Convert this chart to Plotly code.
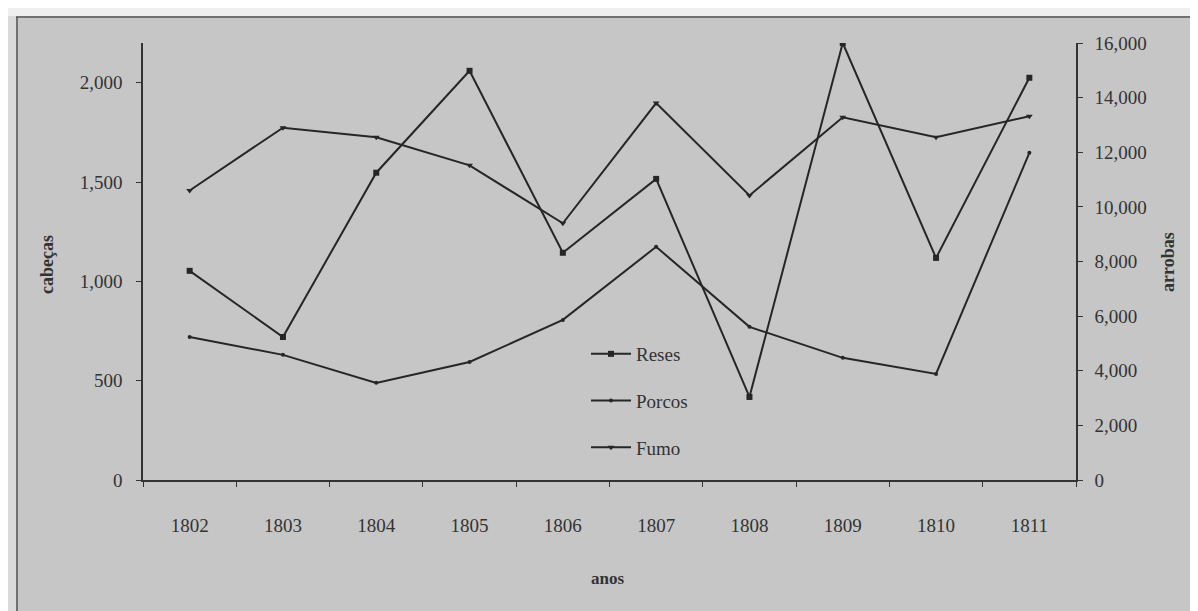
import plotly.graph_objects as go

anos = ["1802", "1803", "1804", "1805", "1806", "1807", "1808", "1809", "1810", "1811"]
reses = [1053, 720, 1547, 2060, 1144, 1516, 418, 2200, 1118, 2025]
porcos = [720, 630, 489, 594, 806, 1174, 771, 615, 534, 1647]
fumo = [10600, 12900, 12550, 11520, 9400, 13800, 10420, 13280, 12550, 13320]

left_ticks = [0, 500, 1000, 1500, 2000]
right_ticks = [0, 2000, 4000, 6000, 8000, 10000, 12000, 14000, 16000]

INK = "#262626"
TXT = "#333333"
SERIF = "Liberation Serif"

O = 8  # page body offset
W, H = 1198, 611
L, T = 143 - O, 43 - O
pw, ph = 933, 437
R, B = W - L - pw, H - T - ph

def px_x(p):
    return (p - O - L) / pw

def px_y(p):
    return (T + ph - (p - O)) / ph

fig = go.Figure()
fig.add_trace(go.Scatter(x=anos, y=reses, name="Reses", mode="lines+markers",
                         line=dict(color=INK, width=2),
                         marker=dict(symbol="square", size=6, color=INK),
                         legendgroup="a"))
fig.add_trace(go.Scatter(x=anos, y=porcos, name="Porcos", mode="lines+markers",
                         line=dict(color=INK, width=2),
                         marker=dict(symbol="circle", size=4, color=INK),
                         legendgroup="b"))
fig.add_trace(go.Scatter(x=anos, y=fumo, name="Fumo", mode="lines+markers",
                         yaxis="y2",
                         line=dict(color=INK, width=2),
                         marker=dict(symbol="triangle-down", size=6, color=INK),
                         legendgroup="c"))

axis_common = dict(showgrid=False, zeroline=False, showline=True,
                   linecolor="#333333", linewidth=1.5,
                   ticks="outside", ticklen=5, tickcolor="#333333",
                   tickfont=dict(family=SERIF, size=19, color=TXT))

fig.update_layout(
    width=W, height=H,
    margin=dict(l=L, r=R, t=T, b=B),
    paper_bgcolor="#c6c6c6",
    plot_bgcolor="#c6c6c6",
    showlegend=True,
    legend=dict(x=px_x(586), y=px_y(335), xanchor="left", yanchor="top",
                bgcolor="rgba(0,0,0,0)", traceorder="grouped",
                tracegroupgap=19, itemwidth=40,
                font=dict(family=SERIF, size=19, color=TXT)),
    xaxis=dict(type="category", tickson="boundaries", range=[-0.5, 9.5],
               ticklabelstandoff=27, **axis_common),
    yaxis=dict(range=[0, 2200], tickvals=left_ticks, tickformat=",",
               ticklabelstandoff=10, **axis_common),
    yaxis2=dict(range=[0, 16000], tickvals=right_ticks, tickformat=",",
                overlaying="y", side="right", anchor="x",
                ticklabelstandoff=8, **axis_common),
    annotations=[
        dict(text="<b>cabeças</b>", x=px_x(47), y=px_y(265), xref="paper", yref="paper",
             xanchor="center", yanchor="middle",
             showarrow=False, textangle=-90,
             font=dict(family=SERIF, size=18, color=TXT)),
        dict(text="<b>arrobas</b>", x=px_x(1168), y=px_y(262), xref="paper", yref="paper",
             xanchor="center", yanchor="middle",
             showarrow=False, textangle=-90,
             font=dict(family=SERIF, size=18, color=TXT)),
        dict(text="<b>anos</b>", x=px_x(607), y=px_y(578), xref="paper", yref="paper",
             xanchor="center", yanchor="middle",
             showarrow=False,
             font=dict(family=SERIF, size=17, color=TXT)),
    ],
    shapes=[
        dict(type="rect", xref="paper", yref="paper", layer="below",
             x0=px_x(0), x1=px_x(W + O), y0=px_y(16), y1=px_y(0),
             fillcolor="#efefef", line=dict(width=0)),
        dict(type="rect", xref="paper", yref="paper", layer="below",
             x0=px_x(0), x1=px_x(16), y0=px_y(H + O), y1=px_y(16),
             fillcolor="#dadada", line=dict(width=0)),
        dict(type="line", xref="paper", yref="paper", layer="below",
             x0=px_x(16), x1=px_x(W + O), y0=px_y(17), y1=px_y(17),
             line=dict(color="#555555", width=1.5)),
        dict(type="line", xref="paper", yref="paper", layer="below",
             x0=px_x(17), x1=px_x(17), y0=px_y(H + O), y1=px_y(17),
             line=dict(color="#555555", width=1.5)),
    ],
)

fig.write_html("out.html")
